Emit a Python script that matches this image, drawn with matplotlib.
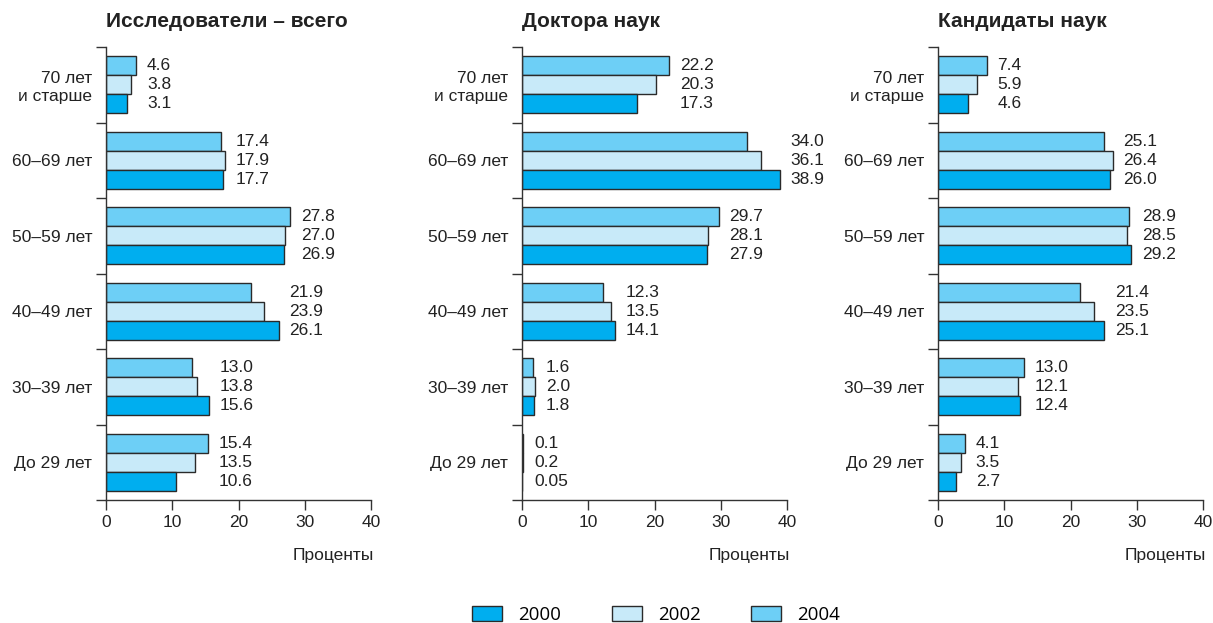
import numpy as np
import matplotlib.pyplot as plt
from matplotlib.patches import Patch

plt.rcParams['font.family'] = ['Liberation Sans Narrow', 'Liberation Sans', 'DejaVu Sans']

# age groups, top to bottom
groups = ['70 лет\nи старше', '60–69 лет', '50–59 лет', '40–49 лет', '30–39 лет', 'До 29 лет']
years = ['2000', '2002', '2004']
titles = ['Исследователи – всего', 'Доктора наук', 'Кандидаты наук']

# panel 1: researchers total
all_2000 = [3.1, 17.7, 26.9, 26.1, 15.6, 10.6]
all_2002 = [3.8, 17.9, 27.0, 23.9, 13.8, 13.5]
all_2004 = [4.6, 17.4, 27.8, 21.9, 13.0, 15.4]

# panel 2: doctors of science
doc_2000 = [17.3, 38.9, 27.9, 14.1, 1.8, 0.05]
doc_2002 = [20.3, 36.1, 28.1, 13.5, 2.0, 0.2]
doc_2004 = [22.2, 34.0, 29.7, 12.3, 1.6, 0.1]

# panel 3: candidates of science
cand_2000 = [4.6, 26.0, 29.2, 25.1, 12.4, 2.7]
cand_2002 = [5.9, 26.4, 28.5, 23.5, 12.1, 3.5]
cand_2004 = [7.4, 25.1, 28.9, 21.4, 13.0, 4.1]

panels = [(all_2000, all_2002, all_2004),
          (doc_2000, doc_2002, doc_2004),
          (cand_2000, cand_2002, cand_2004)]

colors = {'2000': '#00aeef', '2002': '#c8eaf9', '2004': '#6dcff6'}
edge = '#2a2a2a'


def fmt(v):
    return f'{v:.1f}' if round(v, 1) == v else f'{v:.2f}'


fig = plt.figure(figsize=(12.13, 6.23), dpi=100)
W, H = 1213, 623
lefts = [106 / W, 522 / W, 938 / W]
bottom = 1 - 500 / H
height = (500 - 47) / H
width = 265 / W

y = np.arange(len(groups))
h = 0.25

for i, (v00, v02, v04) in enumerate(panels):
    ax = fig.add_axes([lefts[i], bottom, width, height])
    # 2004 on top, 2002 middle, 2000 bottom
    ax.barh(y - h, v04, height=h, color=colors['2004'], edgecolor=edge, linewidth=1)
    ax.barh(y, v02, height=h, color=colors['2002'], edgecolor=edge, linewidth=1)
    ax.barh(y + h, v00, height=h, color=colors['2000'], edgecolor=edge, linewidth=1)

    for j in range(len(groups)):
        xt = max(v00[j], v02[j], v04[j]) + 1.6
        for dy, vals in zip([-h, 0, h], [v04, v02, v00]):
            ax.text(xt, j + dy, fmt(vals[j]), va='center', ha='left',
                    fontsize=12.5, color='#222222')

    ax.set_xlim(0, 40)
    ax.set_ylim(len(groups) - 0.5, -0.5)
    ax.set_xticks([0, 10, 20, 30, 40])
    ax.set_yticks(np.arange(-0.5, len(groups), 1.0))
    ax.set_yticklabels([])
    ax.set_yticks(y, minor=True)
    ax.set_yticklabels(groups, minor=True, fontsize=12.5, ha='right',
                       multialignment='right')
    ax.tick_params(axis='y', which='major', length=7, width=1, color='#333333')
    ax.tick_params(axis='y', which='minor', length=0, pad=10, colors='#222222')
    ax.tick_params(axis='x', length=7, width=1, color='#333333',
                   labelsize=12.5, labelcolor='#222222', pad=4)
    for s in ['top', 'right']:
        ax.spines[s].set_visible(False)
    for s in ['left', 'bottom']:
        ax.spines[s].set_color('#333333')
        ax.spines[s].set_linewidth(1)

    ax.text(0, 1.035, titles[i], transform=ax.transAxes, ha='left', va='bottom',
            fontsize=15, fontweight='bold', color='#222222',
            family=['Liberation Sans', 'DejaVu Sans'])
    ax.text(1.01, -0.122, 'Проценты', transform=ax.transAxes, ha='right', va='center',
            fontsize=12.5, color='#222222')

handles = [Patch(facecolor=colors[yr], edgecolor=edge, linewidth=1) for yr in years]
fig.legend(handles, years, loc='lower center', bbox_to_anchor=(0.541, -0.028), ncol=3,
           frameon=False, handlelength=1.6, handleheight=0.85,
           handletextpad=0.85, columnspacing=2.7,
           prop={'family': ['Open Sans', 'DejaVu Sans'], 'size': 13.5})

fig.savefig('out.png', dpi=100)
